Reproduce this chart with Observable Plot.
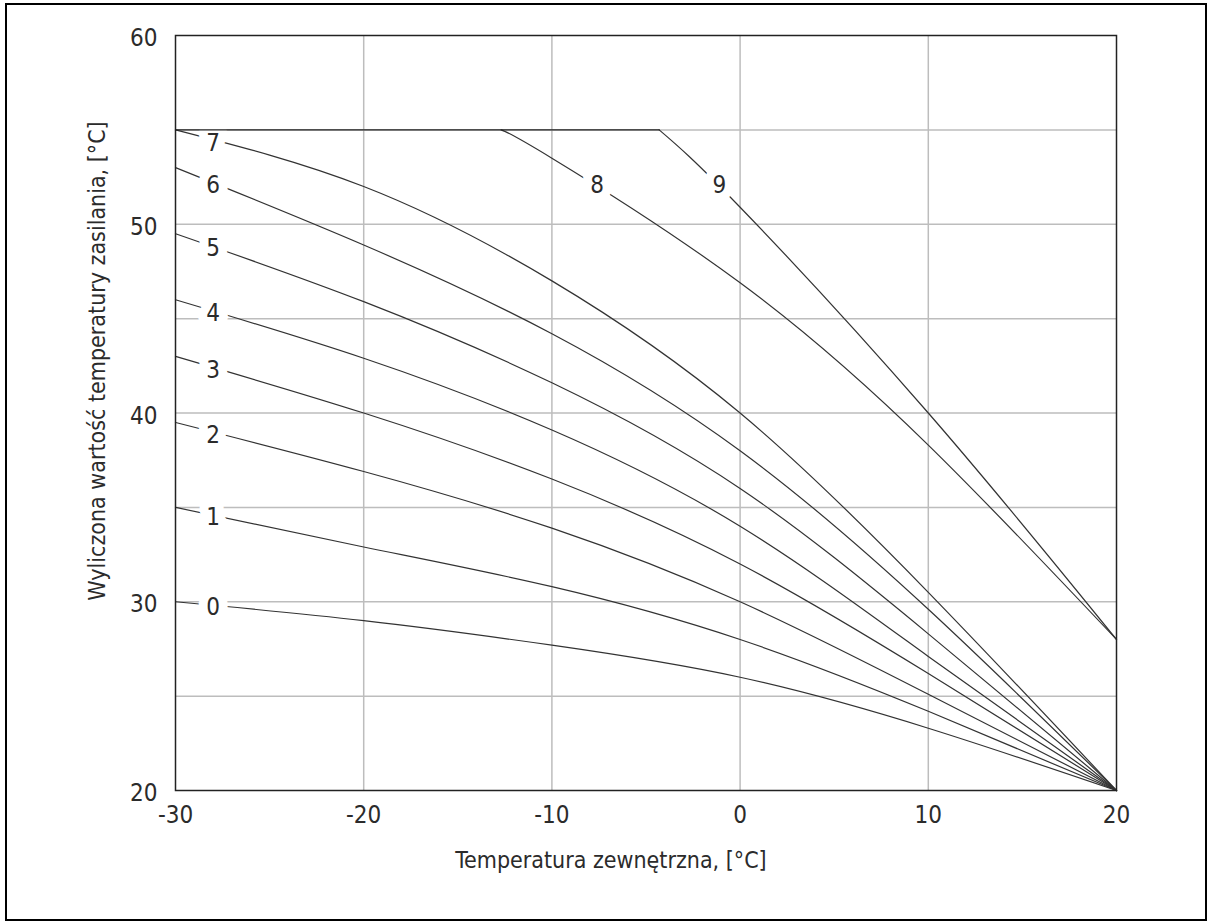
<!DOCTYPE html>
<html><head><meta charset="utf-8">
<script src="https://cdn.jsdelivr.net/npm/d3@7"></script>
<script src="https://cdn.jsdelivr.net/npm/@observablehq/plot@0.6"></script>
<style>
html,body{margin:0;padding:0;background:#fff;}
#chart{position:absolute;left:0;top:0;}
#chart svg{font-stretch:condensed;}
#border{position:absolute;left:5px;top:3px;width:1202px;height:918px;border:2.5px solid #000;box-sizing:border-box;pointer-events:none;}
</style></head><body>
<div id="chart"></div><div id="border"></div>
<script>
// Outdoor temperature (x) sample points and computed supply temperature per heating curve
const xs = [-30, -20, -10, 0, 10, 20];
const curve0 = [30, 29, 27.7, 26, 23.3, 20];
const curve1 = [35, 32.9, 30.8, 28, 24.2, 20];
const curve2 = [39.5, 36.9, 33.9, 30, 25.1, 20];
const curve3 = [43, 40, 36.5, 32, 26.2, 20];
const curve4 = [46, 42.9, 39.1, 34, 27.1, 20];
const curve5 = [49.5, 45.9, 41.6, 36, 28.3, 20];
const curve6 = [53, 48.9, 44.2, 38, 29.6, 20];
const curve7 = [55, 52, 47, 40, 30.5, 20];
const xs8 = [-12.7, -10, 0, 10, 20];
const curve8 = [55, 53.5, 46.9, 38.3, 28];
const xs9 = [-4.3, 0, 10, 20];
const curve9 = [55, 50.9, 40, 28];
const capX = [-30, -4.3];
const capY = [55, 55];

const labelText = ["0", "1", "2", "3", "4", "5", "6", "7", "8", "9"];
const labelX = [-28, -28, -28, -28, -28, -28, -28, -28, -7.6, -1.1];
const labelY = [29.7, 34.45, 38.8, 42.25, 45.3, 48.7, 52.05, 54.3, 52.05, 52.05];

const xTicks = [-30, -20, -10, 0, 10, 20];
const yTicks = [20, 30, 40, 50, 60];
const xGrid = [-20, -10, 0, 10];
const yGrid = [25, 30, 35, 40, 45, 50, 55];
const xTitle = "Temperatura zewnętrzna, [°C]";
const yTitle = "Wyliczona wartość temperatury zasilania, [°C]";

const series = [
  {id: "0", x: xs, y: curve0}, {id: "1", x: xs, y: curve1}, {id: "2", x: xs, y: curve2},
  {id: "3", x: xs, y: curve3}, {id: "4", x: xs, y: curve4}, {id: "5", x: xs, y: curve5},
  {id: "6", x: xs, y: curve6}, {id: "7", x: xs, y: curve7}, {id: "8", x: xs8, y: curve8},
  {id: "9", x: xs9, y: curve9}
];
const rows = series.flatMap(s => s.x.map((x, i) => ({id: s.id, x, y: s.y[i]})));
const cap = capX.map((x, i) => ({x, y: capY[i]}));
const labels = labelText.map((t, i) => ({text: t, x: labelX[i], y: labelY[i]}));

const ink = "#2b2b2b";
const chart = Plot.plot({
  width: 1210,
  height: 924,
  marginLeft: 175,
  marginRight: 94,
  marginTop: 35,
  marginBottom: 134,
  style: {fontFamily: "'DejaVu Sans Condensed', 'DejaVu Sans', sans-serif", fontSize: "24px", color: ink, background: "transparent"},
  x: {domain: [-30, 20]},
  y: {domain: [20, 60]},
  marks: [
    Plot.gridX(xGrid, {stroke: "#bdbdbd", strokeOpacity: 1, strokeWidth: 1.5}),
    Plot.gridY(yGrid, {stroke: "#bdbdbd", strokeOpacity: 1, strokeWidth: 1.5}),
    Plot.axisX({ticks: xTicks, tickSize: 0, tickPadding: 15, label: null, fontSize: 24, tickFormat: d => String(d)}),
    Plot.axisY({ticks: yTicks, tickSize: 0, tickPadding: 18, label: null, fontSize: 24, dy: 3}),
    Plot.line(rows, {x: "x", y: "y", z: "id", curve: "natural", stroke: "#333", strokeWidth: 1.2}),
    Plot.text(labels, {x: "x", y: "y", text: "text", fill: "white", stroke: "white", strokeWidth: 18, strokeLinejoin: "round", fontSize: 24}),
    Plot.text(labels, {x: "x", y: "y", text: "text", fill: ink, fontSize: 24}),
    Plot.line(cap, {x: "x", y: "y", stroke: "#222", strokeWidth: 1.4}),
    Plot.frame({stroke: "#222", strokeWidth: 1.5}),
    Plot.text([xTitle], {frameAnchor: "bottom", text: d => d, textAnchor: "middle", lineAnchor: "middle", dx: -35, dy: 70, fontSize: 23, fill: ink}),
    Plot.text([yTitle], {frameAnchor: "left", text: d => d, textAnchor: "middle", lineAnchor: "middle", dx: -78, dy: -52, rotate: -90, fontSize: 23, fill: ink})
  ]
});
document.getElementById("chart").appendChild(chart);
</script>
</body></html>
